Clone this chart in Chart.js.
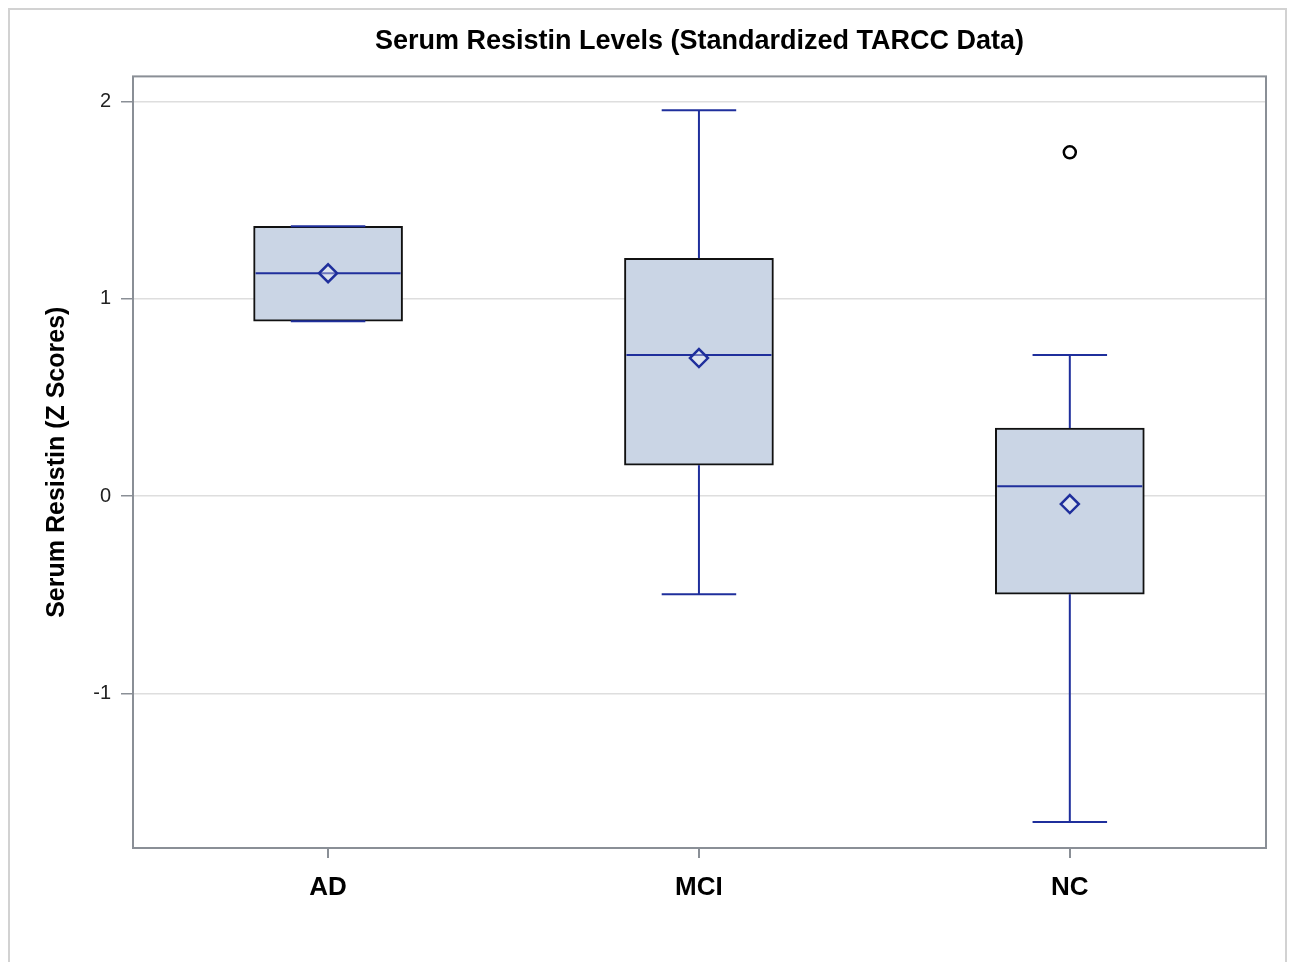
<!DOCTYPE html>
<html>
<head>
<meta charset="utf-8">
<script src="https://cdn.jsdelivr.net/npm/chart.js@4.4.1/dist/chart.umd.min.js"></script>
<style>
    body { margin: 0; background: #fff; overflow: hidden; }
    #wrap { position: relative; width: 1292px; height: 962px; }
    #frame {
        position: absolute; left: 8px; top: 8px; width: 1275px; height: 1000px;
        border: 2px solid #d2d2d2; border-bottom: none;
    }
    canvas { position: absolute; left: 0; top: 0; }
</style>
</head>
<body>
<div id="wrap">
    <div id="frame"></div>
    <canvas id="chart" width="1292" height="962"></canvas>
</div>
<script>
// groups and box statistics (Z scores)
const categories = ['AD', 'MCI', 'NC']
const q1 = [0.887, 0.157, -0.497]
const q3 = [1.368, 1.206, 0.345]
const medians = [1.130, 0.715, 0.050]
const means = [1.130, 0.700, -0.040]
const whiskerLow = [0.887, -0.497, -1.652]
const whiskerHigh = [1.368, 1.956, 0.715]
const outlierGroup = [2]
const outlierValue = [1.743]
const yTicks = [-1, 0, 1, 2]

const blue = '#1f2f9c'
const font = 'Liberation Sans, Arial, sans-serif'

// whiskers, caps and median lines, placed with the chart's own scales
const boxLines = {
    id: 'boxLines',
    beforeDatasetsDraw(chart) {
        const a = chart.chartArea
        const ctx = chart.ctx
        ctx.save()
        ctx.strokeStyle = '#8a8f96'
        ctx.lineWidth = 2
        ctx.strokeRect(a.left, a.top, a.right - a.left, a.bottom - a.top)
        ctx.restore()
    },
    afterDatasetDraw(chart, args) {
        if (args.index !== 0) return
        const y = chart.scales.y
        const ctx = chart.ctx
        const bars = chart.getDatasetMeta(0).data
        ctx.save()
        ctx.strokeStyle = blue
        ctx.lineWidth = 2
        bars.forEach((bar, i) => {
            const half = bar.width / 2
            const cap = half / 2
            const line = (x1, y1, x2, y2) => {
                ctx.beginPath()
                ctx.moveTo(x1, y1)
                ctx.lineTo(x2, y2)
                ctx.stroke()
            }
            line(bar.x, y.getPixelForValue(q3[i]), bar.x, y.getPixelForValue(whiskerHigh[i]))
            line(bar.x, y.getPixelForValue(q1[i]), bar.x, y.getPixelForValue(whiskerLow[i]))
            line(bar.x - cap, y.getPixelForValue(whiskerHigh[i]), bar.x + cap, y.getPixelForValue(whiskerHigh[i]))
            line(bar.x - cap, y.getPixelForValue(whiskerLow[i]), bar.x + cap, y.getPixelForValue(whiskerLow[i]))
            line(bar.x - half + 2, y.getPixelForValue(medians[i]), bar.x + half - 2, y.getPixelForValue(medians[i]))
        })
        ctx.restore()
    }
}

const ctx = document.getElementById('chart').getContext('2d')

const chart = new Chart(ctx, {
    type: 'bar',
    data: {
        datasets: [{
            label: 'Box',
            data: categories.map((c, i) => ({ x: i, y: [q1[i], q3[i]] })),
            backgroundColor: '#cad5e5',
            borderColor: '#111',
            borderWidth: 2,
            borderSkipped: false,
            barThickness: 149,
            grouped: false,
            order: 3
        }, {
            type: 'scatter',
            label: 'Mean',
            data: means.map((m, i) => ({ x: i, y: m })),
            pointStyle: 'rectRot',
            pointRadius: 9,
            borderColor: blue,
            borderWidth: 2.5,
            backgroundColor: 'rgba(255,255,255,0.35)',
            order: 1
        }, {
            type: 'scatter',
            label: 'Outlier',
            data: outlierGroup.map((g, i) => ({ x: g, y: outlierValue[i] })),
            pointStyle: 'circle',
            pointRadius: 6,
            borderColor: '#000',
            borderWidth: 2.5,
            backgroundColor: '#fff',
            order: 1
        }]
    },
    options: {
        responsive: false,
        animation: false,
        devicePixelRatio: 1,
        layout: { padding: { left: 10, right: 26, top: 10, bottom: 10 } },
        plugins: {
            legend: { display: false },
            tooltip: { enabled: false },
            title: {
                display: true,
                fullSize: false,
                text: 'Serum Resistin Levels (Standardized TARCC Data)',
                color: '#000',
                font: { family: font, size: 27, weight: 'bold' },
                padding: { top: 15, bottom: 19 }
            }
        },
        scales: {
            x: {
                type: 'linear',
                offset: false,
                min: -0.526,
                max: 2.529,
                afterBuildTicks: s => { s.ticks = categories.map((c, i) => ({ value: i })) },
                ticks: {
                    callback: v => categories[v],
                    color: '#000',
                    padding: 14,
                    maxRotation: 0,
                    font: { family: font, size: 26, weight: 'bold' }
                },
                grid: { offset: false, drawOnChartArea: false, tickLength: 10, tickColor: '#8a8f96', lineWidth: 2 },
                border: { display: false },
                afterFit: s => { s.height = 962 - 10 - 848 }
            },
            y: {
                min: -1.784,
                max: 2.128,
                afterBuildTicks: s => { s.ticks = yTicks.map(v => ({ value: v })) },
                ticks: {
                    color: '#222',
                    padding: 10,
                    font: { family: font, size: 20 }
                },
                grid: { color: '#dedede', lineWidth: 1.5, tickLength: 12, tickColor: '#8a8f96' },
                border: { display: false },
                title: {
                    display: true,
                    text: 'Serum Resistin (Z Scores)',
                    color: '#000',
                    font: { family: font, size: 25, weight: 'bold' },
                    padding: { top: 32, bottom: 0 }
                },
                afterFit: s => { s.width = 123 }
            }
        }
    },
    plugins: [boxLines]
})
</script>
</body>
</html>
